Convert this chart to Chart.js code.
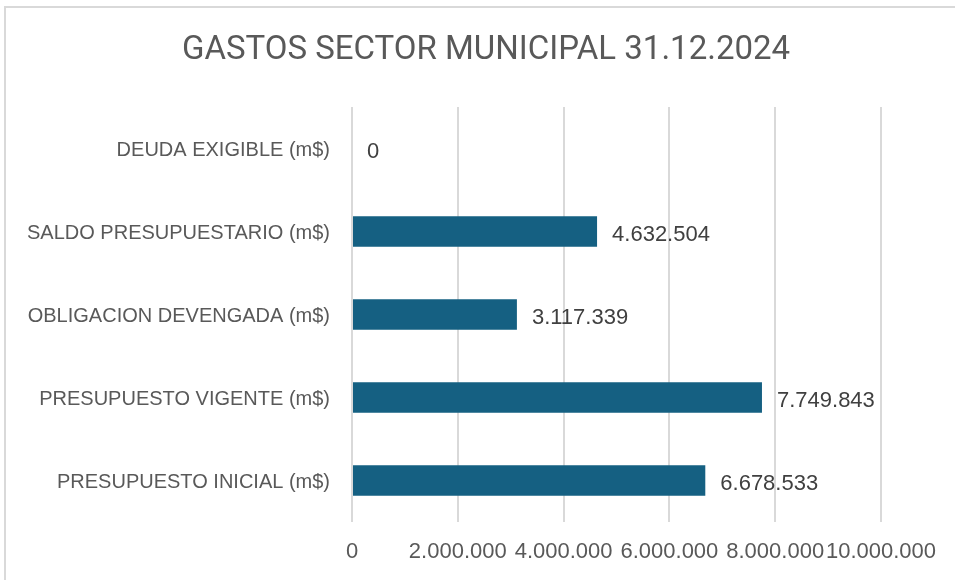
<!DOCTYPE html>
<html>
<head>
<meta charset="utf-8">
<script src="https://cdn.jsdelivr.net/npm/chart.js@4"></script>
<style>
  html, body { margin: 0; padding: 0; background: #fff; overflow: hidden; }
  #frame { position: absolute; left: 4px; top: 6px; width: 1000px; height: 1000px; border: 2px solid #d9d9d9; }
  #myChart { position: absolute; left: 0; top: 0; }
</style>
</head>
<body>
<div id="frame"></div>
<canvas id="myChart" width="955" height="580"></canvas>
<script>
// datos
const titulo = 'GASTOS SECTOR MUNICIPAL 31.12.2024';
const categorias = [
  'DEUDA EXIGIBLE (m$)',
  'SALDO PRESUPUESTARIO (m$)',
  'OBLIGACION DEVENGADA (m$)',
  'PRESUPUESTO VIGENTE (m$)',
  'PRESUPUESTO INICIAL (m$)'
];
const montos = [0, 4632504, 3117339, 7749843, 6678533];
const ejeMax = 10000000;
const ejePaso = 2000000;

function miles(v) {
  return String(v).replace(/\B(?=(\d{3})+(?!\d))/g, '.');
}

// titulo centrado en el recuadro completo
const tituloPlugin = {
  id: 'tituloPlugin',
  afterDraw(chart) {
    const ctx = chart.ctx;
    ctx.save();
    ctx.font = '33px Roboto, sans-serif';
    ctx.fillStyle = '#595959';
    ctx.textAlign = 'center';
    ctx.textBaseline = 'middle';
    ctx.fillText(titulo, 486, 51);
    ctx.restore();
  }
};

// etiquetas al final de cada barra
const etiquetas = {
  id: 'etiquetas',
  afterDatasetsDraw(chart) {
    const ctx = chart.ctx;
    const meta = chart.getDatasetMeta(0);
    ctx.save();
    ctx.font = '22px "Liberation Sans", Arial, sans-serif';
    ctx.fillStyle = '#404040';
    ctx.textAlign = 'left';
    ctx.textBaseline = 'middle';
    meta.data.forEach(function (bar, i) {
      ctx.fillText(miles(montos[i]), bar.x + 15, bar.y + 3);
    });
    ctx.restore();
  }
};

new Chart('myChart', {
  type: 'bar',
  data: {
    labels: categorias,
    datasets: [{
      data: montos,
      backgroundColor: '#156082',
      barPercentage: 0.37,
      categoryPercentage: 1
    }]
  },
  options: {
    indexAxis: 'y',
    responsive: false,
    animation: false,
    layout: { padding: { top: 107, right: 74, bottom: 0, left: 0 } },
    plugins: {
      legend: { display: false },
      tooltip: { enabled: false },
      title: { display: false }
    },
    scales: {
      x: {
        min: 0,
        max: ejeMax,
        border: { display: false },
        grid: { color: '#d9d9d9', lineWidth: 2, drawTicks: false },
        ticks: {
          stepSize: ejePaso,
          autoSkip: false,
          maxRotation: 0,
          padding: 17,
          color: '#595959',
          font: { family: '"Liberation Sans", Arial, sans-serif', size: 22 },
          callback: function (v) { return miles(v); }
        },
        afterFit: function (scale) { scale.height = 58; }
      },
      y: {
        border: { display: false },
        grid: { display: false, drawTicks: false },
        ticks: {
          padding: 22,
          labelOffset: 2,
          color: '#595959',
          font: { family: '"Liberation Sans", Arial, sans-serif', size: 20 }
        },
        afterFit: function (scale) { scale.width = 352; }
      }
    }
  },
  plugins: [etiquetas, tituloPlugin]
});
</script>
</body>
</html>
